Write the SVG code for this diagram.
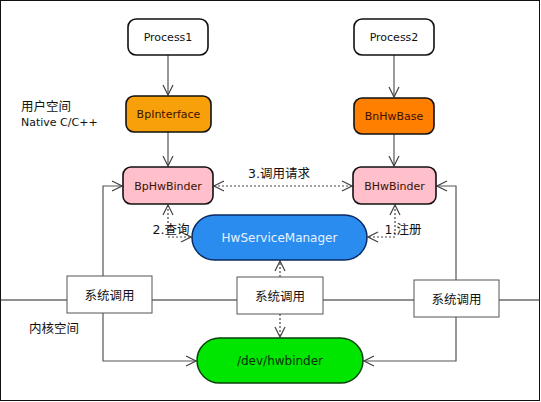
<svg xmlns="http://www.w3.org/2000/svg" width="541" height="402" viewBox="0 0 541 402">
<defs>
<style>
.t{font-family:"DejaVu Sans",Verdana,sans-serif;font-size:11px;fill:#111;text-anchor:middle;dominant-baseline:central}
.tl{font-family:"DejaVu Sans","Noto Sans CJK SC",sans-serif;font-size:11px;fill:#111;dominant-baseline:central}
.tc{font-family:"DejaVu Sans","Noto Sans CJK SC",sans-serif;font-size:12.5px;fill:#111;dominant-baseline:central}
.cjk{font-family:"DejaVu Sans","Noto Sans CJK SC",sans-serif;font-size:12.5px;fill:#111;text-anchor:middle;dominant-baseline:central}
.node{stroke:#111;stroke-width:1.6}
.sys{fill:#fff;stroke:#555;stroke-width:1}
.ln{fill:none;stroke:#555;stroke-width:1.2}
.hl{fill:none;stroke:#222;stroke-width:1.2}
.dl{fill:none;stroke:#444;stroke-width:1.2;stroke-dasharray:2 2}
</style>
<marker id="a" viewBox="0 0 12 12" refX="11" refY="6" markerWidth="12" markerHeight="12" markerUnits="userSpaceOnUse" orient="auto-start-reverse">
<path d="M1,1 L11,6 L1,11" fill="none" stroke="#444" stroke-width="1.2"/>
</marker>
</defs>
<rect x="0.5" y="0.5" width="539" height="400" fill="#fff" stroke="#111" stroke-width="1"/>
<text class="tc" x="21" y="106">用户空间</text>
<text class="tl" x="21" y="122">Native C/C++</text>
<text class="tc" x="29" y="328">内核空间</text>
<g id="connectors">
<line class="hl" x1="0" y1="300" x2="540" y2="300"/>
<line class="ln" x1="168" y1="55" x2="168" y2="95" marker-end="url(#a)"/>
<line class="ln" x1="168" y1="132" x2="168" y2="166" marker-end="url(#a)"/>
<line class="ln" x1="394" y1="55" x2="394" y2="97" marker-end="url(#a)"/>
<line class="ln" x1="394" y1="134" x2="394" y2="166" marker-end="url(#a)"/>
<polyline class="ln" points="103,300 103,186 122,186" marker-end="url(#a)"/>
<polyline class="ln" points="103,300 103,361 196,361" marker-end="url(#a)"/>
<polyline class="ln" points="456,300 456,186 437,186" marker-end="url(#a)"/>
<polyline class="ln" points="456,300 456,361 364,361" marker-end="url(#a)"/>
<line class="dl" x1="214" y1="186" x2="352" y2="186" marker-start="url(#a)" marker-end="url(#a)"/>
<polyline class="dl" points="168,205 168,237 191,237" marker-start="url(#a)" marker-end="url(#a)"/>
<polyline class="dl" points="395,205 395,237 368,237" marker-start="url(#a)" marker-end="url(#a)"/>
<line class="dl" x1="280" y1="277" x2="280" y2="261" marker-end="url(#a)"/>
<line class="dl" x1="280" y1="314" x2="280" y2="337" marker-end="url(#a)"/>
<text class="cjk" x="279" y="173">3.调用请求</text>
<text class="cjk" x="171" y="229">2.查询</text>
<text class="cjk" x="403" y="229">1.注册</text>
</g>
<g id="process1"><rect class="node" x="128" y="19" width="80" height="36" rx="8" fill="#fff"/><text class="t" x="168" y="37">Process1</text></g>
<g id="process2"><rect class="node" x="354" y="19" width="80" height="36" rx="8" fill="#fff"/><text class="t" x="394" y="37">Process2</text></g>
<g id="bpinterface"><rect class="node" x="126" y="96" width="85" height="36" rx="8" fill="#f8a00a"/><text class="t" x="168.5" y="114" style="fill:#3a1000">BpInterface</text></g>
<g id="bnhwbase"><rect class="node" x="354" y="98" width="80" height="36" rx="8" fill="#ff7f00"/><text class="t" x="394" y="116" style="fill:#3a1000">BnHwBase</text></g>
<g id="bphwbinder"><rect class="node" x="123" y="167" width="90" height="37" rx="8" fill="#ffc0cb"/><text class="t" x="168" y="186" style="fill:#3a1000">BpHwBinder</text></g>
<g id="bhwbinder"><rect class="node" x="353" y="167" width="83" height="37" rx="8" fill="#ffc0cb"/><text class="t" x="394.5" y="186" style="fill:#3a1000">BHwBinder</text></g>
<g id="hwservicemanager"><rect x="192" y="215" width="175" height="45" rx="22.5" fill="#2b8cf0" stroke="#0a2a60" stroke-width="1.5"/><text class="t" x="279.5" y="238" style="fill:#e8f2ff;font-size:12px">HwServiceManager</text></g>
<g id="devhwbinder"><rect x="197" y="338" width="166" height="45" rx="22.5" fill="#00e600" stroke="#0a400a" stroke-width="1.5"/><text class="t" x="280" y="361" style="fill:#0a300a;font-size:12px">/dev/hwbinder</text></g>
<g id="sys1"><rect class="sys" x="67" y="276" width="85" height="37"/><text class="cjk" x="109.5" y="295">系统调用</text></g>
<g id="sys2"><rect class="sys" x="237" y="277" width="86" height="37"/><text class="cjk" x="280" y="296">系统调用</text></g>
<g id="sys3"><rect class="sys" x="414" y="280" width="85" height="37"/><text class="cjk" x="456.5" y="299">系统调用</text></g>
</svg>
